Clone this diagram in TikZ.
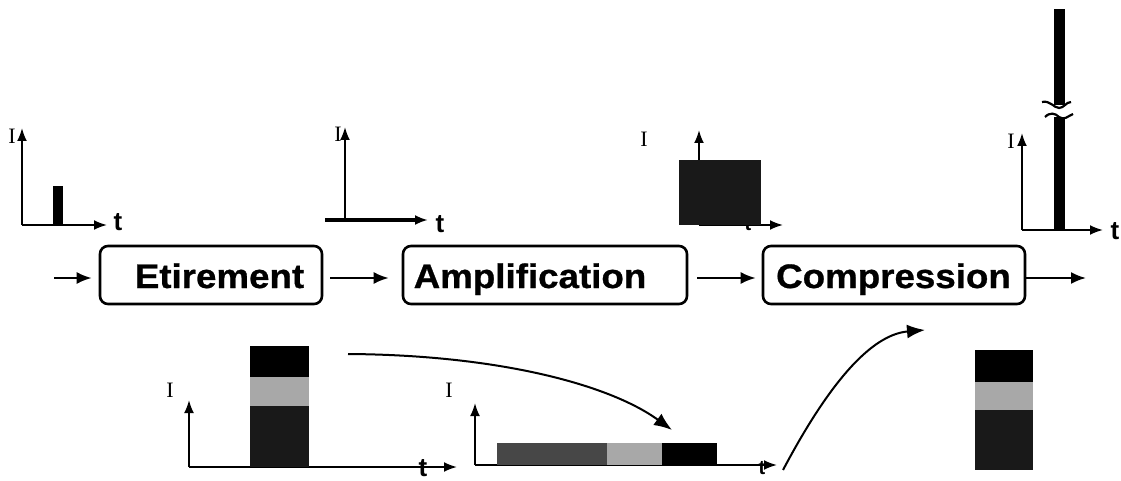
\documentclass[tikz,border=0pt]{standalone}
\usepackage{fontspec}
\setmainfont{Liberation Sans}
\newfontfamily\boxfont[FakeStretch=1.08,FakeBold=0.8]{Liberation Sans Bold}
\newfontfamily\serifI{Liberation Serif}
\usetikzlibrary{arrows.meta}
\definecolor{darkfill}{gray}{0.10}
\definecolor{midfill}{gray}{0.28}
\definecolor{lightfill}{gray}{0.66}
\begin{document}
\begin{tikzpicture}[x=1pt,y=-1pt,
  stagebox/.style={draw, line width=2.6pt, rounded corners=8pt, minimum height=58pt, inner sep=0pt},
  stagetext/.style={anchor=base, inner sep=0pt, font=\boxfont\fontsize{34}{40}\selectfont},
  flow/.style={line width=2.2pt, -{Latex[length=15pt,width=12pt]}},
  axis/.style={line width=2pt, -{Latex[length=13pt,width=10pt]}},
  curvearrow/.style={line width=2pt, -{Latex[length=18pt,width=14pt]}},
  ilabel/.style={inner sep=0pt, font=\serifI\fontsize{22}{22}\selectfont},
  tlabel/.style={inner sep=0pt, font=\bfseries\fontsize{26}{26}\selectfont}
]
\useasboundingbox (0,0) rectangle (1121,481);

% ---------- stage boxes ----------
\node[stagebox, minimum width=222pt] (etir) at (211,275) {};
\node[stagetext] (etirt) at (219.5,288) {Etirement};
\node[stagebox, minimum width=284pt] (ampl) at (545,275) {};
\node[stagetext] (amplt) at (530,288) {Amplification};
\node[stagebox, minimum width=262pt] (comp) at (894,275) {};
\node[stagetext] (compt) at (893.5,288) {Compression};

\coordinate (inS) at (54,278);
\coordinate (outE) at (1086,278);
\draw[flow, shorten >=7pt] (inS) -- ([yshift=-3pt]etir.west);
\draw[flow, shorten <=7pt, shorten >=13pt] ([yshift=-3pt]etir.east) -- ([yshift=-3pt]ampl.west);
\draw[flow, shorten <=9pt, shorten >=6pt] ([yshift=-3pt]ampl.east) -- ([yshift=-3pt]comp.west);
\draw[flow] ([yshift=-3pt]comp.east) -- (outE);

% ---------- graph 1 : short pulse ----------
\coordinate (g1o) at (22,225);
\coordinate (g1y) at (22,128);
\coordinate (g1x) at (107,225);
\draw[axis] (g1o) -- (g1y);
\draw[axis] (g1o) -- (g1x);
\node[ilabel] (g1i) at (12,136) {I};
\node[tlabel] (g1t) at (118,222) {t};
\fill[black] (53,186) rectangle (63,225);

% ---------- graph 2 : stretched pulse ----------
\coordinate (g2o) at (345,220);
\coordinate (g2y) at (345,127);
\coordinate (g2s) at (325,220);
\coordinate (g2x) at (428,220);
\draw[axis] (g2o) -- (g2y);
\draw[line width=3.8pt, -{Latex[length=13pt,width=10pt]}] (g2s) -- (g2x);
\node[ilabel] (g2i) at (338,134) {I};
\node[tlabel] (g2t) at (440,224) {t};

% ---------- graph 3 : amplified stretched pulse ----------
\coordinate (g3o) at (699,225);
\coordinate (g3y) at (699,130);
\coordinate (g3x) at (783,225);
\node[tlabel, font=\bfseries\fontsize{20}{20}\selectfont] (g3t) at (748,224) {t};
\draw[axis] (g3o) -- (g3y);
\draw[axis] (g3o) -- (g3x);
\fill[darkfill] (679,160) rectangle (761,225);
\node[ilabel] (g3i) at (644,139) {I};

% ---------- graph 4 : compressed pulse ----------
\coordinate (g4o) at (1022,230);
\coordinate (g4y) at (1022,133);
\coordinate (g4x) at (1103,230);
\draw[axis] (g4o) -- (g4y);
\draw[axis] (g4o) -- (g4x);
\node[ilabel] (g4i) at (1011,141) {I};
\node[tlabel] (g4t) at (1115,231) {t};
\fill[black] (1054,9) rectangle (1065,105);
\fill[black] (1054,117) rectangle (1065,230);
\draw[line width=2.2pt] (1042,102) .. controls (1050,100) and (1054,108) .. (1059,108) .. controls (1064,108) and (1066,102) .. (1071,102);
\draw[line width=2.2pt] (1045,117) .. controls (1050,112) and (1055,113) .. (1059,117) .. controls (1064,121) and (1068,116) .. (1073,114);

% ---------- graph 5 : spectrum before stretching ----------
\coordinate (g5o) at (189,467);
\coordinate (g5y) at (189,400);
\coordinate (g5x) at (457,467);
\draw[axis] (g5o) -- (g5y);
\draw[axis] (g5o) -- (g5x);
\node[ilabel] (g5i) at (170,390) {I};
\node[tlabel] (g5t) at (423,468) {t};
\fill[black] (250,346) rectangle (309,377);
\fill[lightfill] (250,377) rectangle (309,406);
\fill[darkfill] (250,406) rectangle (309,467);

% ---------- graph 6 : stretched (chirped) pulse ----------
\coordinate (g6o) at (475,465);
\coordinate (g6y) at (475,403);
\coordinate (g6x) at (777,465);
\node[tlabel, font=\bfseries\fontsize{20}{20}\selectfont] (g6t) at (762,468) {t};
\draw[axis] (g6o) -- (g6y);
\draw[axis] (g6o) -- (g6x);
\node[ilabel] (g6i) at (449,390) {I};
\fill[midfill] (497,443) rectangle (607,465);
\fill[lightfill] (607,443) rectangle (662,465);
\fill[black] (662,443) rectangle (717,465);

% ---------- graph 7 : recompressed ----------
\fill[black] (975,350) rectangle (1033,382);
\fill[lightfill] (975,382) rectangle (1033,410);
\fill[darkfill] (975,410) rectangle (1033,470);

% ---------- curved arrows ----------
\coordinate (c1s) at (348,354);
\coordinate (c1e) at (672,430);
\draw[curvearrow] (c1s) .. controls (500,355) and (610,385) .. (c1e);
\coordinate (c2s) at (783,470);
\coordinate (c2e) at (925,330);
\draw[curvearrow] (c2s) .. controls (820,400) and (865,335) .. (c2e);
\end{tikzpicture}
\end{document}
